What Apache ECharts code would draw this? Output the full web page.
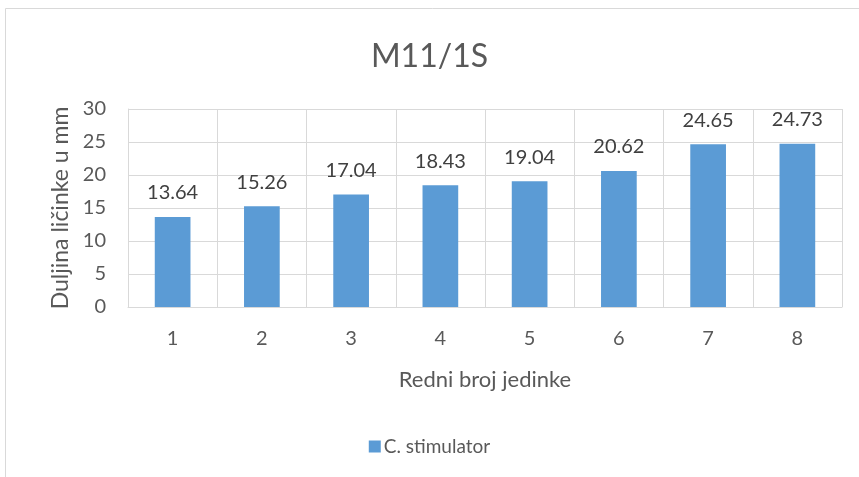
<!DOCTYPE html>
<html>
<head>
<meta charset="utf-8">
<script src="https://cdn.jsdelivr.net/npm/echarts@6/dist/echarts.min.js"></script>
<style>
  html, body { margin: 0; padding: 0; background: #fff; }
  #main { width: 859px; height: 477px; }
</style>
</head>
<body>
<div id="main"></div>
<script>
// redni broj jedinke
var categories = ['1', '2', '3', '4', '5', '6', '7', '8'];
// duljina ličinke u mm
var lengths = [13.64, 15.26, 17.04, 18.43, 19.04, 20.62, 24.65, 24.73];
var yTicks = [0, 5, 10, 15, 20, 25, 30];

var font = 'Lato, "Open Sans", sans-serif';
var textColor = '#595959';
var gridColor = '#d9d9d9';

var chart = echarts.init(document.getElementById('main'));

var option = {
  animation: false,
  textStyle: { fontFamily: font },
  graphic: [{
    type: 'rect',
    shape: { x: 5.5, y: 8.5, width: 900, height: 500 },
    style: { fill: 'none', stroke: gridColor, lineWidth: 1 },
    silent: true
  }],
  title: {
    text: 'M11/1S',
    left: 'center',
    top: 36,
    textStyle: { fontFamily: font, fontSize: 32, fontWeight: 'normal', color: textColor }
  },
  legend: {
    data: ['C. stimulator'],
    bottom: 16,
    left: 'center',
    itemWidth: 12,
    itemHeight: 12,
    itemGap: 4,
    icon: 'rect',
    textStyle: { fontFamily: font, fontSize: 19, color: textColor, padding: [0, 0, 0, -2] }
  },
  grid: {
    left: 128,
    right: 17,
    top: 109,
    bottom: 170
  },
  xAxis: {
    type: 'category',
    data: categories,
    name: 'Redni broj jedinke',
    nameLocation: 'middle',
    nameGap: 62,
    nameTextStyle: { fontFamily: font, fontSize: 22, color: textColor },
    axisLine: { lineStyle: { color: gridColor } },
    axisTick: { show: false },
    axisLabel: { fontSize: 20, color: textColor, margin: 22 },
    splitLine: { show: true, lineStyle: { color: gridColor } }
  },
  yAxis: {
    type: 'value',
    min: yTicks[0],
    max: yTicks[yTicks.length - 1],
    interval: 5,
    name: 'Duljina ličinke u mm',
    nameLocation: 'middle',
    nameGap: 56,
    nameTextStyle: { fontFamily: font, fontSize: 23, color: textColor },
    axisLine: { show: true, lineStyle: { color: gridColor } },
    axisTick: { show: false },
    axisLabel: { fontSize: 20, color: textColor, margin: 22 },
    splitLine: { lineStyle: { color: gridColor } }
  },
  series: [{
    name: 'C. stimulator',
    type: 'bar',
    data: lengths,
    barWidth: '40%',
    itemStyle: { color: '#5b9bd5' },
    label: {
      show: true,
      position: 'top',
      distance: 14,
      fontSize: 20,
      color: '#404040',
      fontFamily: font
    }
  }]
};

chart.setOption(option);
</script>
</body>
</html>
